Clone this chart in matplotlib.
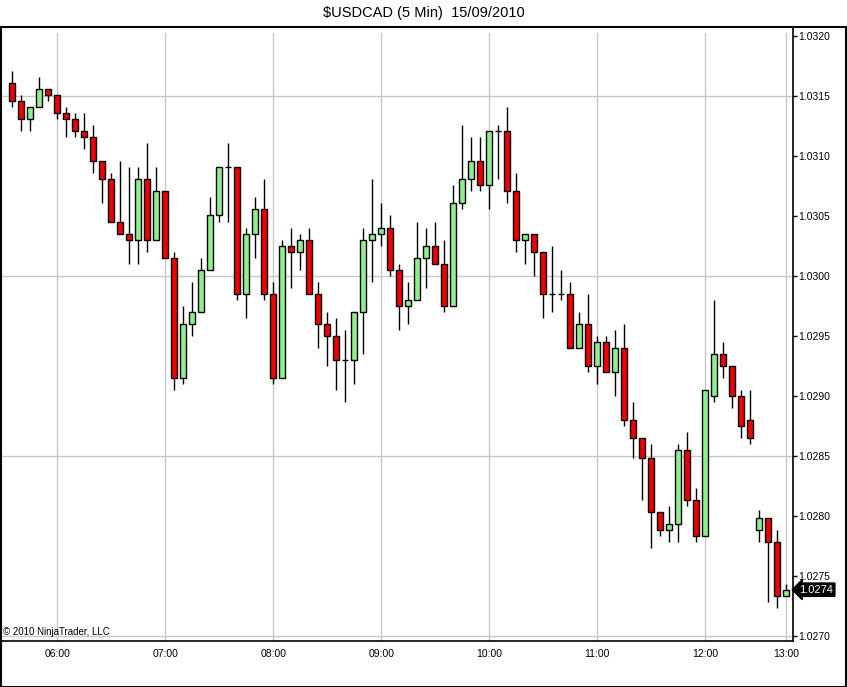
import matplotlib
matplotlib.use("Agg")
import matplotlib.pyplot as plt
from matplotlib.patches import Rectangle
from matplotlib.transforms import blended_transform_factory
import numpy as np
import pandas as pd

# velas de 5 minutos, $USDCAD 15/09/2010 (falta un hueco entre 12:25 y 12:45)
times = list(pd.date_range("2010-09-15 05:35", periods=83, freq="5min")) + \
        list(pd.date_range("2010-09-15 12:45", periods=4, freq="5min"))

opens = [1.03161, 1.03146, 1.03131, 1.03141, 1.03156, 1.03151, 1.03136, 1.03131, 1.03121, 1.03116,
         1.03096, 1.03081, 1.03045, 1.03035, 1.03030, 1.03081, 1.03030, 1.03071, 1.03015, 1.02915,
         1.02960, 1.02970, 1.03005, 1.03051, 1.03091, 1.03091, 1.02985, 1.03035, 1.03056, 1.02985,
         1.02915, 1.03025, 1.03020, 1.03030, 1.02985, 1.02960, 1.02950, 1.02930, 1.02930, 1.02970,
         1.03030, 1.03035, 1.03040, 1.03005, 1.02975, 1.02980, 1.03015, 1.03025, 1.03010, 1.02975,
         1.03061, 1.03081, 1.03096, 1.03076, 1.03121, 1.03121, 1.03071, 1.03030, 1.03035, 1.03020,
         1.02985, 1.02985, 1.02985, 1.02940, 1.02960, 1.02925, 1.02945, 1.02920, 1.02940, 1.02880,
         1.02865, 1.02849, 1.02804, 1.02789, 1.02794, 1.02855, 1.02814, 1.02784, 1.02900, 1.02935,
         1.02925, 1.02900, 1.02880, 1.02789, 1.02799, 1.02779, 1.02734]
highs = [1.03171, 1.03151, 1.03141, 1.03166, 1.03156, 1.03151, 1.03141, 1.03136, 1.03136, 1.03126,
         1.03096, 1.03086, 1.03096, 1.03091, 1.03091, 1.03111, 1.03091, 1.03071, 1.03020, 1.02975,
         1.02995, 1.03015, 1.03066, 1.03091, 1.03111, 1.03091, 1.03040, 1.03066, 1.03081, 1.02995,
         1.03030, 1.03040, 1.03035, 1.03040, 1.02995, 1.02970, 1.02965, 1.02955, 1.02970, 1.03040,
         1.03081, 1.03061, 1.03051, 1.03010, 1.02995, 1.03045, 1.03040, 1.03045, 1.03030, 1.03076,
         1.03126, 1.03116, 1.03116, 1.03121, 1.03126, 1.03141, 1.03086, 1.03035, 1.03035, 1.03020,
         1.03025, 1.03005, 1.02995, 1.02970, 1.02985, 1.02950, 1.02950, 1.02955, 1.02960, 1.02895,
         1.02865, 1.02860, 1.02804, 1.02809, 1.02860, 1.02870, 1.02824, 1.02905, 1.02980, 1.02945,
         1.02925, 1.02905, 1.02905, 1.02805, 1.02799, 1.02789, 1.02744]
lows = [1.03141, 1.03121, 1.03121, 1.03141, 1.03146, 1.03131, 1.03116, 1.03116, 1.03106, 1.03086,
        1.03061, 1.03045, 1.03035, 1.03010, 1.03010, 1.03020, 1.03030, 1.03015, 1.02905, 1.02910,
        1.02950, 1.02970, 1.03005, 1.03045, 1.03045, 1.02980, 1.02965, 1.03015, 1.02980, 1.02910,
        1.02915, 1.02990, 1.03005, 1.02985, 1.02940, 1.02925, 1.02905, 1.02895, 1.02910, 1.02935,
        1.02995, 1.03025, 1.03000, 1.02955, 1.02960, 1.02980, 1.02990, 1.03010, 1.02970, 1.02975,
        1.03056, 1.03071, 1.03071, 1.03056, 1.03081, 1.03061, 1.03020, 1.03010, 1.03000, 1.02965,
        1.02970, 1.02980, 1.02940, 1.02940, 1.02920, 1.02910, 1.02920, 1.02900, 1.02875, 1.02849,
        1.02814, 1.02774, 1.02784, 1.02779, 1.02779, 1.02809, 1.02779, 1.02784, 1.02895, 1.02915,
        1.02890, 1.02865, 1.02860, 1.02779, 1.02729, 1.02724, 1.02734]
closes = [1.03146, 1.03131, 1.03141, 1.03156, 1.03151, 1.03136, 1.03131, 1.03121, 1.03116, 1.03096,
          1.03081, 1.03045, 1.03035, 1.03030, 1.03081, 1.03030, 1.03071, 1.03015, 1.02915, 1.02960,
          1.02970, 1.03005, 1.03051, 1.03091, 1.03091, 1.02985, 1.03035, 1.03056, 1.02985, 1.02915,
          1.03025, 1.03020, 1.03030, 1.02985, 1.02960, 1.02950, 1.02930, 1.02930, 1.02970, 1.03030,
          1.03035, 1.03040, 1.03005, 1.02975, 1.02980, 1.03015, 1.03025, 1.03010, 1.02975, 1.03061,
          1.03081, 1.03096, 1.03076, 1.03121, 1.03121, 1.03071, 1.03030, 1.03035, 1.03020, 1.02985,
          1.02985, 1.02985, 1.02940, 1.02960, 1.02925, 1.02945, 1.02920, 1.02940, 1.02880, 1.02865,
          1.02849, 1.02804, 1.02789, 1.02794, 1.02855, 1.02814, 1.02784, 1.02905, 1.02935, 1.02925,
          1.02900, 1.02875, 1.02865, 1.02799, 1.02779, 1.02734, 1.02739]

price_ticks = [1.0270, 1.0275, 1.0280, 1.0285, 1.0290, 1.0295, 1.0300, 1.0305, 1.0310, 1.0315, 1.0320]
grid_levels = [1.0270, 1.0285, 1.0300, 1.0315]

o = np.array(opens)
h = np.array(highs)
l = np.array(lows)
c = np.array(closes)
x = np.arange(len(o))
up = c >= o

W, H = 847, 687
fig = plt.figure(figsize=(W / 100, H / 100), dpi=100)
plt.rcParams['font.family'] = ['Liberation Sans', 'DejaVu Sans']

ax = fig.add_axes([1 / W, 46 / H, 792 / W, 614 / H])

# rejilla (las verticales empiezan un poco por debajo del borde superior)
hour_idx = [i for i, t in enumerate(times) if t.minute == 0]
for i in hour_idx:
    ax.axvline(i, ymax=1 - 6 / 614, color='#c8c8c8', lw=1, zorder=0)
for g in grid_levels:
    ax.axhline(g, color='#c8c8c8', lw=1, zorder=0)

# mechas y cuerpos
ax.vlines(x, l, h, color='black', lw=1, zorder=1)
colors = np.where(up, '#90ee90', '#ee0000')
ax.bar(x, np.abs(c - o), bottom=np.minimum(o, c), width=0.68, color=colors,
       edgecolor='black', linewidth=1, zorder=2)

ax.set_xlim(-1.26, 86.74)
ax.set_ylim(1.0269625, 1.032079)

ax.set_xticks(hour_idx)
ax.set_xticklabels([times[i].strftime('%H:%M') for i in hour_idx])
ax.set_yticks(price_ticks)
ax.set_yticklabels(['%.4f' % p for p in price_ticks])
ax.yaxis.tick_right()
ax.tick_params(axis='y', direction='out', length=3, width=1, pad=1, labelsize=7.5)
ax.tick_params(axis='x', length=0, pad=6, labelsize=7.5)
for s in ax.spines.values():
    s.set_color('black')
    s.set_linewidth(1.2)

# etiqueta del último precio
tr = blended_transform_factory(ax.transAxes, ax.transData)
ax.text(1.008, c[-1], '%.4f' % c[-1], transform=tr, ha='left', va='center',
        color='white', fontsize=8,
        bbox=dict(boxstyle='larrow,pad=0.15', fc='black', ec='black'))

ax.text(0.003, 0.006, '© 2010 NinjaTrader, LLC', transform=ax.transAxes,
        fontsize=7, ha='left', va='bottom')

fig.text(0.5, 1 - 13 / H, r'\$USDCAD (5 Min)  15/09/2010', ha='center', va='center', fontsize=10.5)

# marco exterior
fig.patches.append(Rectangle((0.5 / W, 0.5 / H), (W - 1.5) / W, (H - 27.5) / H,
                             transform=fig.transFigure, fill=False, ec='black', lw=1.5))

fig.savefig('out.png', dpi=100)
